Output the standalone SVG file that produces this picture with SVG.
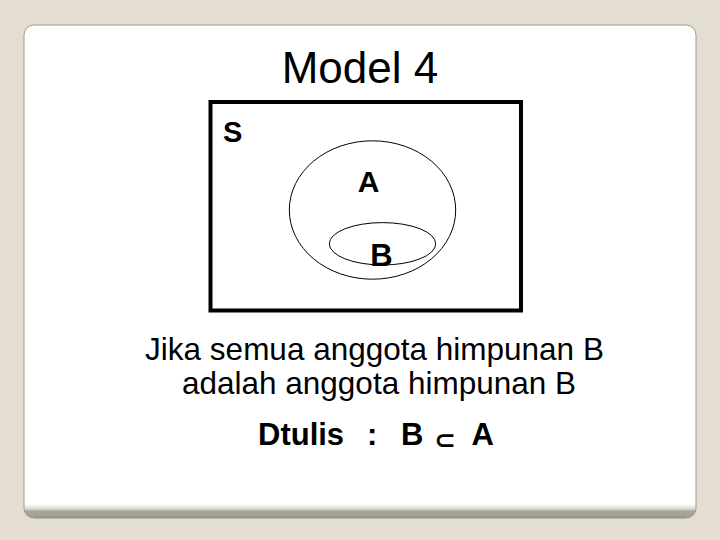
<svg xmlns="http://www.w3.org/2000/svg" width="720" height="540" viewBox="0 0 720 540">
<defs>
<linearGradient id="pg" x1="0" y1="0" x2="0" y2="1">
<stop offset="0" stop-color="#ffffff"/>
<stop offset="0.972" stop-color="#ffffff"/>
<stop offset="0.982" stop-color="#d8d5cf"/>
<stop offset="0.986" stop-color="#a9a59c"/>
<stop offset="0.996" stop-color="#a3a097"/>
<stop offset="1" stop-color="#85827a"/>
</linearGradient>
<style>
.t{font-family:"Liberation Sans",Arial,sans-serif;fill:#000}
.b{font-weight:bold}
.ln{fill:none;stroke:#000}
</style>
</defs>
<rect width="720" height="540" fill="#e3ddd2"/>
<rect x="24" y="25" width="672" height="493" rx="10" fill="url(#pg)" stroke="#9d9a92" stroke-width="1"/>
<text class="t" x="360" y="83" font-size="44" text-anchor="middle">Model 4</text>
<g id="S">
<rect class="ln" x="210.5" y="102" width="310.5" height="208.5" stroke-width="4"/>
<text class="t b" x="223" y="142" font-size="29">S</text>
</g>
<g id="A">
<ellipse class="ln" cx="372.5" cy="210" rx="83.2" ry="69.2" stroke-width="1"/>
<text class="t b" x="368.5" y="191.5" font-size="30" text-anchor="middle">A</text>
</g>
<g id="B">
<ellipse class="ln" cx="382.5" cy="243.8" rx="53.2" ry="21.2" stroke-width="1"/>
<text class="t b" x="381.5" y="265.5" font-size="31" text-anchor="middle">B</text>
</g>
<text class="t" x="374.5" y="360" font-size="31.5" text-anchor="middle">Jika semua anggota himpunan B</text>
<text class="t" x="379" y="394" font-size="31.5" text-anchor="middle">adalah anggota himpunan B</text>
<text class="t b" x="258" y="444.5" font-size="31">Dtulis</text>
<text class="t b" x="367" y="444.5" font-size="31">:</text>
<text class="t b" x="401" y="444.5" font-size="31">B</text>
<text x="434" y="448.5" font-size="26" font-family="DejaVu Sans,sans-serif" font-weight="bold">⊂</text>
<text class="t b" x="471.5" y="444.5" font-size="31">A</text>
</svg>
